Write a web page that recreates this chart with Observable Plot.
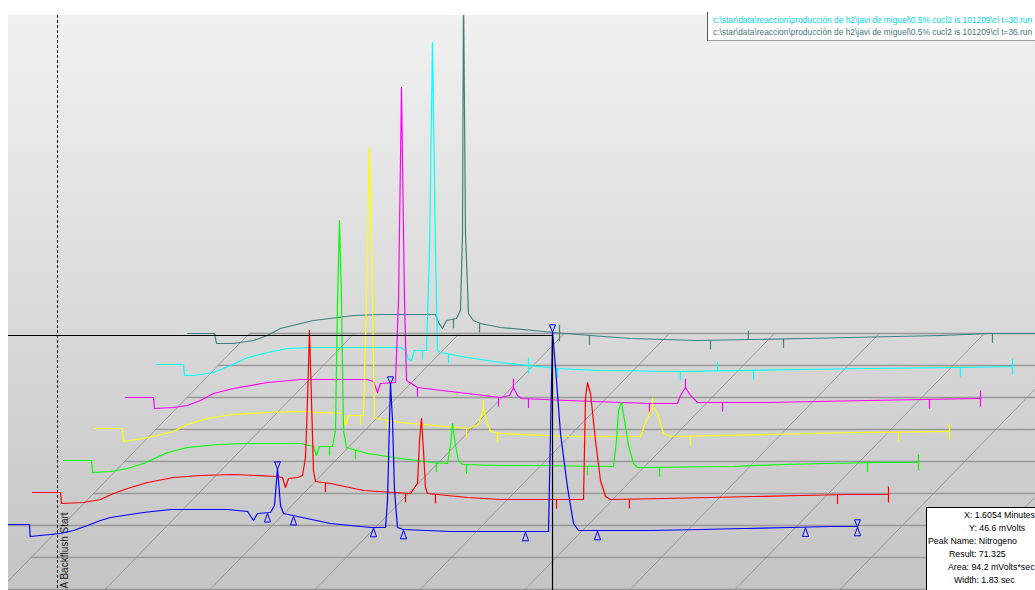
<!DOCTYPE html>
<html>
<head>
<meta charset="utf-8">
<script src="https://cdn.jsdelivr.net/npm/d3@7"></script>
<script src="https://cdn.jsdelivr.net/npm/@observablehq/plot@0.6"></script>
<style>
  html, body { margin: 0; padding: 0; background: #fff; }
  body { width: 1035px; height: 590px; overflow: hidden; position: relative;
         font-family: "Liberation Sans", Arial, sans-serif; }
  #chart { position: absolute; left: 8px; top: 15px; width: 1027px; height: 575px;
           overflow: hidden; background: linear-gradient(#f1f1f1, #c4c4c4); }
  #files { position: absolute; left: 707px; top: 12px; width: 340px; height: 28px;
           background: #fff; border-left: 1px solid #555; border-bottom: 1px solid #9a9a9a;
           font-size: 8.4px; line-height: 12px; white-space: nowrap; overflow: hidden; }
  #files div { padding-left: 5px; }
  #files div:first-child { margin-top: 2px; }
  #info { position: absolute; left: 926px; top: 507px; width: 120px; height: 90px;
          background: #fff; border: 1px solid #000; font-size: 8.8px; color: #000; }
  #info div { position: absolute; white-space: nowrap; }
</style>
</head>
<body>
<div id="chart"></div>
<div id="files"></div>
<div id="info"></div>
<script>
// Stacked chromatograms: each run is [time (min), signal (mV)].
// Runs are drawn on a slanted floor: every level back shifts by LEVEL_DT and LEVEL_DV.

const blueTrace = [
  [0.03,-0.65],[0.111,-0.65],[0.113,-3.65],[0.1997,-2.9],[0.2368,-2.15],[0.2768,-0.9],[0.314,0.35],
  [0.3425,1.1],[0.4368,2.35],[0.514,3.1],[0.6768,3.1],[0.734,2.6],[0.7511,0.35],[0.7625,2.1],
  [0.7997,2.35],[0.8111,4.1],[0.8197,13.35],[0.8283,4.1],[0.8368,2.1],[0.8768,1.35],[0.9711,-0.4],
  [1.0854,-1.4],[1.1283,-1.4],[1.134,5.35],[1.1397,25.35],[1.1425,34.6],[1.1483,25.35],[1.154,7.85],
  [1.1625,-1.4],[1.1797,-1.9],[1.314,-2.4],[1.594,-2.4],[1.5997,22.1],[1.6054,47.6],[1.614,38.6],
  [1.6283,22.1],[1.6483,8.6],[1.6654,-0.4],[1.6797,-2.15],[1.8854,-2.15],[2.0283,-1.9],[2.1511,-1.65],
  [2.2854,-1.4],[2.3997,-1.15],[2.4768,-1.15]
];
const redTrace = [
  [0.0307,-0.65],[0.1107,-0.65],[0.1135,-3.4],[0.1764,-3.15],[0.225,-2.4],[0.2621,-0.9],[0.3021,0.35],
  [0.3593,1.85],[0.4335,3.1],[0.5107,3.6],[0.605,3.85],[0.7307,3.35],[0.745,3.1],[0.7535,0.6],
  [0.7621,2.85],[0.7878,3.1],[0.8021,3.6],[0.8107,8.1],[0.8164,22.35],[0.8221,39.85],[0.8278,22.35],
  [0.8335,4.85],[0.8393,2.1],[0.8821,1.6],[0.9764,-0.15],[1.1107,-0.9],[1.1307,1.6],[1.1364,12.35],
  [1.1421,17.85],[1.1478,9.85],[1.1535,0.6],[1.1593,-0.9],[1.2735,-1.9],[1.3678,-2.4],[1.605,-2.4],
  [1.6107,23.1],[1.6164,26.85],[1.625,24.1],[1.6393,12.35],[1.6535,2.35],[1.6678,-1.65],[1.6821,-2.4],
  [1.8335,-2.15],[1.9678,-1.9],[2.0907,-1.65],[2.225,-1.4],[2.3621,-1.15],[2.4764,-1.15]
];
const greenTrace = [
  [0.0303,-0.65],[0.1103,-0.65],[0.1131,-3.65],[0.1645,-3.4],[0.2131,-2.65],[0.2588,-1.4],[0.3274,1.35],
  [0.3845,2.6],[0.4703,3.35],[0.556,3.6],[0.7074,3.6],[0.7445,2.85],[0.7531,0.6],[0.7617,2.85],
  [0.7988,2.85],[0.8074,6.85],[0.8131,39.35],[0.8188,59.35],[0.8245,39.35],[0.8303,6.85],[0.8388,2.6],
  [0.8988,1.1],[0.9931,-0.15],[1.0874,-1.15],[1.1274,-1.4],[1.136,3.1],[1.1417,8.6],[1.1503,3.1],
  [1.1588,-0.65],[1.1703,-1.65],[1.2788,-1.9],[1.3731,-1.9],[1.6017,-2.15],[1.6103,4.35],[1.616,11.85],
  [1.6245,13.85],[1.6331,9.35],[1.6445,3.1],[1.6588,-1.4],[1.6703,-2.4],[1.9445,-2.15],[2.0788,-1.65],
  [2.2131,-1.4],[2.356,-1.15],[2.4731,-1.15]
];
const yellowTrace = [
  [0.0298,-0.65],[0.1098,-0.65],[0.1127,-3.9],[0.1698,-3.15],[0.2098,-2.4],[0.2555,-1.4],[0.2955,0.35],
  [0.3527,1.85],[0.427,2.85],[0.5241,3.35],[0.6184,3.6],[0.7413,3.1],[0.747,0.1],[0.7555,2.6],
  [0.7984,2.6],[0.807,31.35],[0.8155,69.6],[0.8241,31.35],[0.8298,2.1],[0.8384,1.85],[0.9041,0.85],
  [0.9984,0.1],[1.0955,-0.65],[1.127,0.35],[1.1413,4.35],[1.1498,1.35],[1.1613,-1.4],[1.1898,-1.9],
  [1.3813,-2.65],[1.5898,-2.65],[1.6041,0.85],[1.6241,4.85],[1.6384,3.1],[1.6555,-1.9],[1.6755,-2.65],
  [1.9527,-2.15],[2.1984,-1.65],[2.4727,-1.4]
];
const magentaTrace = [
  [0.0294,-0.9],[0.1094,-0.9],[0.1123,-3.65],[0.1665,-3.4],[0.2065,-2.9],[0.2437,-1.65],[0.2808,0.1],
  [0.338,1.35],[0.4351,2.85],[0.5294,3.6],[0.7208,3.6],[0.738,3.1],[0.7494,0.35],[0.758,2.6],
  [0.8008,2.85],[0.8094,23.35],[0.818,76.6],[0.8265,23.35],[0.8323,3.35],[0.8637,1.6],[0.9094,1.1],
  [1.0065,0.1],[1.1008,-0.9],[1.1265,-0.4],[1.138,1.6],[1.1494,-0.4],[1.1608,-1.15],[1.2923,-1.65],
  [1.5294,-2.4],[1.6065,-2.4],[1.6151,-0.4],[1.6294,1.6],[1.6437,-0.4],[1.6637,-2.15],[1.8637,-2.15],
  [2.1494,-1.65],[2.4723,-1.15]
];
const cyanTrace = [
  [0.029,-0.65],[0.1061,-0.65],[0.109,-3.4],[0.1347,-3.4],[0.1918,-2.65],[0.2404,-0.9],[0.289,1.1],
  [0.3461,2.35],[0.4033,3.35],[0.4775,3.6],[0.7261,3.6],[0.7404,2.85],[0.749,0.6],[0.7575,0.35],
  [0.7661,2.85],[0.8004,2.85],[0.809,27.85],[0.8175,79.85],[0.8261,27.85],[0.8318,2.85],[0.8404,2.35],
  [0.9175,1.1],[1.0118,-0.15],[1.1747,-1.65],[1.2975,-2.15],[1.5261,-2.4],[1.869,-1.9],[2.0604,-1.65],
  [2.3261,-1.4],[2.4747,-1.15]
];
const tealTrace = [
  [0.0285,-0.9],[0.1057,-0.9],[0.1114,-3.4],[0.16,-3.4],[0.2171,-2.65],[0.2571,-1.4],[0.2943,0.35],
  [0.3514,1.6],[0.3885,2.35],[0.4571,3.1],[0.5028,3.6],[0.58,3.85],[0.7371,3.85],[0.7457,1.85],
  [0.7571,0.35],[0.7685,2.35],[0.7971,2.85],[0.8085,4.85],[0.8143,24.1],[0.8171,86],[0.8228,24.1],
  [0.8314,4.1],[0.8457,2.35],[0.8657,1.6],[0.9228,0.6],[1.0171,-0.15],[1.0743,-0.65],[1.18,-1.4],
  [1.2943,-2.15],[1.4857,-2.65],[1.7885,-2.15],[1.9228,-1.9],[2.18,-1.4],[2.3228,-0.9],[2.475,-0.9]
];

// Integration events per run: [time, kind]
const redEvents = [[0.8678,"down"],[1.0964,"down"],[1.1821,"down"],[1.5278,"down"],[1.7364,"down"],[2.3307,"down"],[2.4764,"end"]];
const greenEvents = [[0.7903,"down"],[0.8645,"down"],[1.096,"down"],[1.1817,"down"],[1.5274,"down"],[1.7331,"down"],[2.3274,"down"],[2.4731,"end"]];
const yellowEvents = [[0.7898,"down"],[0.867,"down"],[1.0927,"down"],[1.1413,"up"],[1.1813,"down"],[1.6241,"up"],[1.7327,"down"],[2.327,"down"],[2.4727,"end"]];
const magentaEvents = [[0.8637,"down"],[1.0951,"down"],[1.138,"up"],[1.1808,"down"],[1.5265,"down"],[1.6294,"up"],[1.7351,"down"],[2.3265,"down"],[2.4723,"end"]];
const cyanEvents = [[0.789,"down"],[0.8633,"down"],[1.0918,"both"],[1.1747,"down"],[1.526,"down"],[1.632,"up"],[1.7347,"down"],[2.326,"down"],[2.4747,"end"]];
const tealEvents = [[0.7885,"down"],[0.8628,"down"],[1.0914,"both"],[1.1771,"down"],[1.5228,"down"],[1.631,"up"],[1.7314,"down"],[2.3285,"down"]];

// Peak baseline marks and apex marks on the front run
const blueBaselineMarks = [0.7911, 0.8654, 1.094, 1.1797, 1.5283, 1.734, 2.3283, 2.4768];
const bluePeakMarks = [0.8197, 1.1425, 1.6054, 2.4768];

// Floor grid
const gridTimes = [0.205, 0.505, 0.805, 1.105, 1.405, 1.705, 2.005, 2.305, 2.605, 2.905];
const floorLevels = [-2, -1, 0, 1, 2, 3, 4, 5, 6];

// Cursor readout
const cursorX = 1.6054, cursorY = 46.6;
const backflushTime = 0.1911;
const fileNames = [
  "c:\\star\\data\\reaccion\\producción de h2\\javi de miguel\\0.5% cucl2 is 101209\\cl t=30.run",
  "c:\\star\\data\\reaccion\\producción de h2\\javi de miguel\\0.5% cucl2 is 101209\\cl t=36.run"
];
const fileColors = ["#00d4e6", "#3f7878"];
const infoLines = ["X:  1.6054 Minutes", "Y: 46.6 mVolts", "Peak Name: Nitrogeno", "Result: 71.325", "Area: 94.2 mVolts*sec", "Width: 1.83 sec"];
const infoIndent = [37, 42, 1, 22, 21, 27];

const X_DOMAIN = [0.0511, 2.9854];
const Y_DOMAIN = [-17.15, 126.6];
const LEVEL_DT = 0.089;
const LEVEL_DV = 8;
const FLOOR_V = -0.9;

const runs = [
  {color: "#3f8080", level: 6, points: tealTrace, events: tealEvents},
  {color: "#00ffff", level: 5, points: cyanTrace, events: cyanEvents},
  {color: "#ff00ff", level: 4, points: magentaTrace, events: magentaEvents},
  {color: "#ffff00", level: 3, points: yellowTrace, events: yellowEvents},
  {color: "#00ff00", level: 2, points: greenTrace, events: greenEvents},
  {color: "#ff0000", level: 1, points: redTrace, events: redEvents},
  {color: "#0000ff", level: 0, points: blueTrace, events: []}
];

function valueAt(points, t) {
  const i = d3.bisector(d => d[0]).left(points, t);
  if (i <= 0) return points[0][1];
  if (i >= points.length) return points[points.length - 1][1];
  const [t0, v0] = points[i - 1], [t1, v1] = points[i];
  return v0 + (v1 - v0) * (t - t0) / (t1 - t0);
}

const triUp = {draw(ctx, size) { const r = Math.sqrt(size / Math.PI);
  ctx.moveTo(0, -r); ctx.lineTo(0.72 * r, r); ctx.lineTo(-0.72 * r, r); ctx.closePath(); }};
const triDown = {draw(ctx, size) { const r = Math.sqrt(size / Math.PI);
  ctx.moveTo(-0.8 * r, -r); ctx.lineTo(0.8 * r, -r); ctx.lineTo(0, r); ctx.closePath(); }};

const marks = [];

// floor: horizontal level lines and slanted time lines
marks.push(Plot.ruleY(floorLevels, {
  y: L => FLOOR_V + L * LEVEL_DV,
  x1: L => L === 0 ? X_DOMAIN[0] : gridTimes[0] + L * LEVEL_DT,
  x2: () => X_DOMAIN[1],
  stroke: "#999", strokeWidth: 1.4
}));
marks.push(Plot.link(gridTimes, {
  x1: t => t - 2.3 * LEVEL_DT, y1: () => FLOOR_V - 2.3 * LEVEL_DV,
  x2: t => t + 6 * LEVEL_DT, y2: () => FLOOR_V + 6 * LEVEL_DV,
  stroke: "#8a8a8a", strokeWidth: 0.8
}));

// backflush event
marks.push(Plot.ruleX([backflushTime], {stroke: "#111", strokeWidth: 1, strokeDasharray: "3,2"}));
marks.push(Plot.text(["A Backflush Start"], {
  x: () => backflushTime, y: () => Y_DOMAIN[0], text: d => d, rotate: -90,
  textAnchor: "start", lineAnchor: "bottom", dx: 11, dy: -2, fontSize: 10, fill: "#222"
}));

// runs, back to front
for (const run of runs) {
  const L = run.level;
  marks.push(Plot.line(run.points, {
    x: d => d[0] + L * LEVEL_DT, y: d => d[1] + L * LEVEL_DV,
    stroke: run.color, strokeWidth: 1.2, clip: true
  }));
  const span = {down: [0, -2.3], up: [0, 2.2], both: [2, -2], end: [2, -2]};
  marks.push(Plot.link(run.events, {
    x1: e => e[0] + L * LEVEL_DT, x2: e => e[0] + L * LEVEL_DT,
    y1: e => valueAt(run.points, e[0]) + L * LEVEL_DV + span[e[1]][0],
    y2: e => valueAt(run.points, e[0]) + L * LEVEL_DV + span[e[1]][1],
    stroke: run.color, strokeWidth: 1.2
  }));
}

// peak marks on the front run
marks.push(Plot.dot(blueBaselineMarks, {
  x: t => t, y: t => valueAt(blueTrace, t), symbol: triUp, r: 4.3, dy: 5,
  stroke: "#0000ff", strokeWidth: 1, fill: "none"
}));
marks.push(Plot.dot(bluePeakMarks, {
  x: t => t, y: t => valueAt(blueTrace, t), symbol: triDown, r: 3.7, dy: -3,
  stroke: "#0000ff", strokeWidth: 1, fill: "none"
}));

// cursor crosshair
marks.push(Plot.ruleY([cursorY], {x1: () => X_DOMAIN[0], x2: () => cursorX, stroke: "#000", strokeWidth: 1}));
marks.push(Plot.ruleX([cursorX], {y1: () => cursorY, y2: () => Y_DOMAIN[0], stroke: "#000", strokeWidth: 1.2}));

const chart = Plot.plot({
  width: 1027, height: 575,
  margin: 0,
  x: {domain: X_DOMAIN, axis: null},
  y: {domain: Y_DOMAIN, axis: null},
  style: {background: "transparent", overflow: "hidden", fontFamily: "Liberation Sans, Arial, sans-serif"},
  marks
});
document.getElementById("chart").appendChild(chart);

const files = d3.select("#files");
fileNames.forEach((f, i) => files.append("div").style("color", fileColors[i]).text(f));

const info = d3.select("#info");
infoLines.forEach((s, i) => info.append("div")
  .style("left", infoIndent[i] + "px").style("top", (2 + i * 13) + "px").text(s));
</script>
</body>
</html>
